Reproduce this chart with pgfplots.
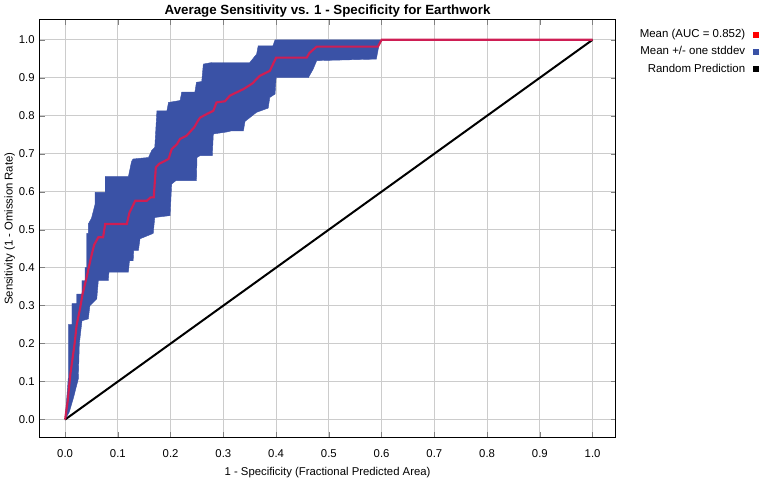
\documentclass[border=0pt]{standalone}
\usepackage{fontspec}
\setmainfont{Liberation Sans}
\usepackage{pgfplots}
\pgfplotsset{compat=1.18}

\definecolor{bandblue}{RGB}{58,82,166}
\definecolor{meanred}{RGB}{206,30,84}
\definecolor{gridgray}{RGB}{204,204,204}

\begin{document}
\begin{tikzpicture}
\begin{axis}[
    scale only axis,
    width=432.7pt,
    height=313.8pt,
    xmin=-0.049, xmax=1.044,
    ymin=-0.048, ymax=1.053,
    xtick={0,0.1,...,1.0},
    ytick={0,0.1,...,1.0},
    tick align=inside,
    major tick length=4pt,
    xticklabel style={yshift=-5pt, /pgf/number format/.cd, fixed, fixed zerofill, precision=1},
    yticklabel style={/pgf/number format/.cd, fixed, fixed zerofill, precision=1},
    /pgf/number format/assume math mode=true,
    ticklabel style={font=\fontsize{8.5}{10}\selectfont},
    grid=major,
    major grid style={gridgray, line width=0.75pt},
    axis line style={line width=0.75pt},
    title={\bfseries Average Sensitivity vs. 1 - Specificity for Earthwork},
    title style={font=\fontsize{10}{12}\selectfont, yshift=-7.5pt},
    xlabel={1 - Specificity (Fractional Predicted Area)},
    ylabel={Sensitivity (1 - Omission Rate)},
    label style={font=\fontsize{8.5}{10}\selectfont},
    xlabel style={yshift=-1pt},
    ylabel style={yshift=-4pt},
    legend style={at={(1.254,0.99)}, anchor=north east, draw=none, fill=none,
        font=\fontsize{8.6}{10}\selectfont, row sep=1.2pt, legend cell align=right,
        /tikz/every odd column/.append style={column sep=4pt}},
    legend plot pos=right,
]
% band: upper edge forward, lower edge back
\addplot[fill=bandblue, draw=bandblue, line width=0.3pt, forget plot] coordinates {
(0,0) (0.006,0.11) (0.006,0.25) (0.013,0.25) (0.013,0.305) (0.022,0.305)
(0.022,0.33) (0.032,0.33) (0.032,0.366) (0.038,0.366) (0.038,0.40) (0.041,0.40)
(0.041,0.49) (0.044,0.49) (0.044,0.515) (0.05,0.53) (0.057,0.568) (0.057,0.598)
(0.076,0.598) (0.076,0.64) (0.12,0.64) (0.126,0.68) (0.129,0.686) (0.158,0.69)
(0.164,0.708) (0.17,0.717) (0.174,0.813) (0.193,0.813) (0.196,0.835) (0.218,0.84)
(0.221,0.862) (0.246,0.862) (0.249,0.888) (0.259,0.89) (0.262,0.936) (0.278,0.94)
(0.35,0.94) (0.363,0.962) (0.366,0.984) (0.394,0.984) (0.398,1.0) (0.597,1.0)
(0.59,0.949) (0.477,0.945) (0.47,0.922) (0.461,0.90) (0.40,0.90) (0.398,0.857)
(0.388,0.848) (0.385,0.82) (0.363,0.809) (0.341,0.785) (0.338,0.76) (0.315,0.76)
(0.306,0.757) (0.281,0.752) (0.279,0.695) (0.256,0.695) (0.25,0.69) (0.249,0.629)
(0.21,0.629) (0.202,0.62) (0.199,0.537) (0.17,0.532) (0.167,0.49) (0.142,0.476)
(0.139,0.445) (0.13,0.445) (0.129,0.418) (0.122,0.418) (0.12,0.388) (0.083,0.388)
(0.082,0.366) (0.063,0.366) (0.06,0.318) (0.047,0.30) (0.044,0.265) (0.032,0.26)
(0.027,0.2) (0.025,0.107) (0.016,0.058) (0.008,0.02) (0,0)
} -- cycle;
% random prediction
\addplot[black, line width=1.5pt, forget plot] coordinates {(0,0) (1,1)};
% mean
\addplot[meanred, line width=1.6pt, forget plot] coordinates {
(0,0) (0.005,0.05) (0.01,0.12) (0.018,0.2) (0.022,0.25) (0.028,0.29)
(0.033,0.33) (0.04,0.37) (0.048,0.42) (0.055,0.46) (0.063,0.48) (0.072,0.48)
(0.076,0.515) (0.117,0.515) (0.122,0.545) (0.133,0.576) (0.155,0.576)
(0.162,0.585) (0.168,0.585) (0.172,0.664) (0.178,0.673) (0.196,0.686)
(0.202,0.712) (0.212,0.725) (0.218,0.739) (0.23,0.747) (0.245,0.77)
(0.252,0.787) (0.256,0.795) (0.268,0.804) (0.281,0.813) (0.287,0.835)
(0.303,0.838) (0.3125,0.853) (0.338,0.87) (0.355,0.885) (0.369,0.905)
(0.388,0.918) (0.40,0.953) (0.458,0.953) (0.463,0.965) (0.477,0.982)
(0.593,0.982) (0.6,1.0) (1,1)
};
\addlegendimage{only marks, mark=square*, mark size=1.8pt, color=red}
\addlegendentry{Mean (AUC = 0.852)}
\addlegendimage{only marks, mark=square*, mark size=1.8pt, color=bandblue}
\addlegendentry{Mean +/- one stddev}
\addlegendimage{only marks, mark=square*, mark size=1.8pt, color=black}
\addlegendentry{Random Prediction}
\end{axis}
\end{tikzpicture}
\end{document}
